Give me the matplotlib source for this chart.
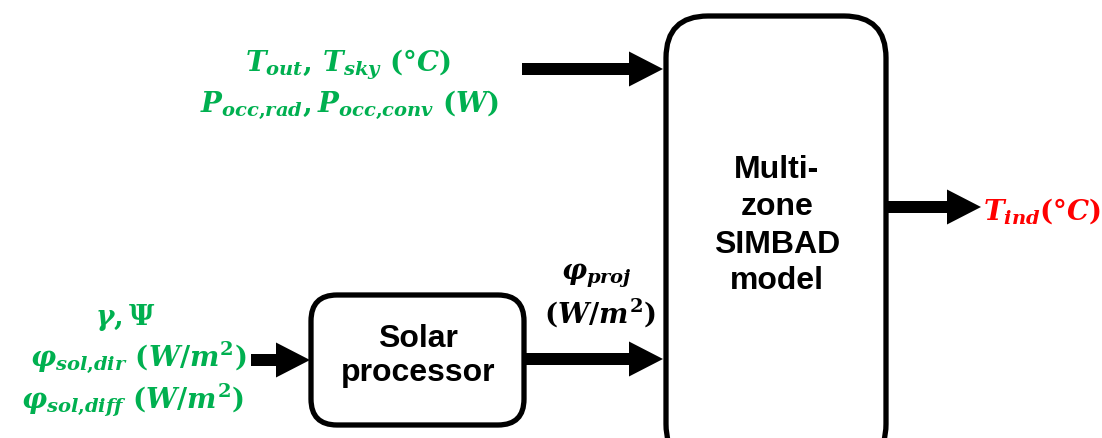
import matplotlib
matplotlib.use("Agg")
import matplotlib.pyplot as plt
from matplotlib.patches import FancyBboxPatch, FancyArrow

plt.rcParams['mathtext.fontset'] = 'custom'
plt.rcParams['mathtext.it'] = 'DejaVu Serif:bold:italic'
plt.rcParams['mathtext.rm'] = 'DejaVu Serif:bold'
plt.rcParams['mathtext.bf'] = 'DejaVu Serif:bold'
plt.rcParams['mathtext.default'] = 'it'

GREEN = '#00B050'
RED = '#FF0000'

# Diagram content
solar_lines = ["Solar", "processor"]
model_lines = ["Multi-", "zone", "SIMBAD", "model"]
input_top = [r"$T_{out},\, T_{sky}\ (\mathrm{°}C)$",
             r"$P_{occ{,}rad},P_{occ{,}conv}\ (W)$"]
input_left = [r"$\gamma, \Psi$",
              r"$\varphi_{sol{,}dir}\ (W/m^2)$",
              r"$\varphi_{sol{,}diff}\ (W/m^2)$"]
mid_label = [r"$\varphi_{proj}$", r"$(W/m^2)$"]
output_label = r"$T_{ind}(\mathrm{°}C)$"

W, H = 1102, 439
fig = plt.figure(figsize=(W / 100, H / 100), dpi=100)
ax = fig.add_axes([0, 0, 1, 1])
ax.set_xlim(0, W)
ax.set_ylim(H, 0)
ax.axis('off')

lw = 3.8
# boxes
solar = FancyBboxPatch((311, 296), 213, 130, boxstyle="round,pad=0,rounding_size=26",
                       fc='white', ec='black', lw=lw)
ax.add_patch(solar)
big = FancyBboxPatch((666, 17), 220, 450, boxstyle="round,pad=0,rounding_size=42",
                     fc='white', ec='black', lw=lw, clip_on=True)
ax.add_patch(big)

bfs = 23
for txt, yb in zip(solar_lines, [347, 381]):
    ax.text(418, yb, txt, ha='center', va='baseline', fontsize=bfs,
            fontweight='bold', family='Liberation Sans')
for txt, yb in zip(model_lines, [178, 215, 253, 289]):
    ax.text(777, yb, txt, ha='center', va='baseline', fontsize=bfs,
            fontweight='bold', family='Liberation Sans')

def arrow(x0, x1, y):
    ax.add_patch(FancyArrow(x0, y, x1 - x0, 0, width=12, head_width=35, head_length=34,
                            length_includes_head=True, fc='black', ec='black', lw=0))

arrow(522, 663, 70)
arrow(251, 310, 361)
arrow(526, 663, 360)
arrow(888, 981, 208)

fs = 20
ax.text(348, 65, input_top[0], color=GREEN, fontsize=fs, ha='center', va='center')
ax.text(350, 105, input_top[1], color=GREEN, fontsize=fs, ha='center', va='center')

ax.text(125, 318, input_left[0], color=GREEN, fontsize=fs, ha='center', va='center')
ax.text(138, 357, input_left[1], color=GREEN, fontsize=fs, ha='center', va='center')
ax.text(133, 400, input_left[2], color=GREEN, fontsize=fs, ha='center', va='center')

ax.text(596, 276, mid_label[0], color='black', fontsize=fs, ha='center', va='center')
ax.text(600, 313, mid_label[1], color='black', fontsize=fs, ha='center', va='center')

ax.text(983, 211, output_label, color=RED, fontsize=fs, ha='left', va='center')

fig.savefig('out.png', dpi=100)
